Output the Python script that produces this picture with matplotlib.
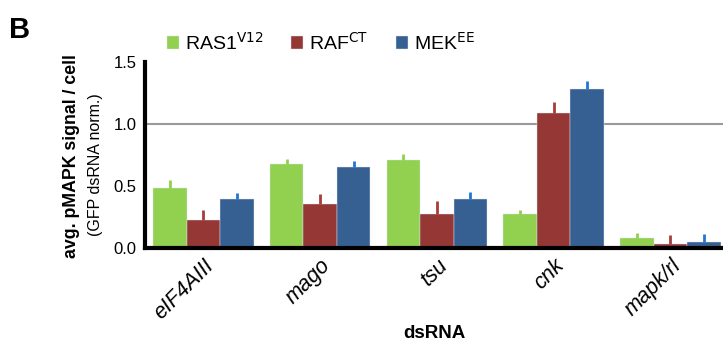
import numpy as np
import matplotlib.pyplot as plt

plt.rcParams['font.family'] = ['Liberation Sans', 'DejaVu Sans']

genes = ['eIF4AIII', 'mago', 'tsu', 'cnk', 'mapk/rl']
series = [r'RAS1$^{\mathrm{V12}}$', r'RAF$^{\mathrm{CT}}$', r'MEK$^{\mathrm{EE}}$']

ras1 = [0.48, 0.68, 0.71, 0.275, 0.08]
ras1_err = [0.07, 0.04, 0.045, 0.03, 0.045]
raf = [0.225, 0.355, 0.275, 1.09, 0.03]
raf_err = [0.08, 0.08, 0.10, 0.09, 0.075]
mek = [0.395, 0.65, 0.395, 1.28, 0.045]
mek_err = [0.05, 0.05, 0.055, 0.07, 0.07]

bar_colors = ['#92d050', '#953735', '#376092']
err_colors = ['#8fd14f', '#a83c3a', '#1f78d1']

fig = plt.figure(figsize=(7.23, 3.5), dpi=100)
ax = fig.add_axes([0.2006, 0.2914, 0.7994, 0.5316])

x = np.arange(len(genes))
w = 0.287
handles = []
for i, (vals, errs) in enumerate([(ras1, ras1_err), (raf, raf_err), (mek, mek_err)]):
    pos = x + (i - 1) * w
    h = ax.bar(pos, vals, w, color=bar_colors[i], edgecolor='#dfe6ee', linewidth=0.3,
               zorder=2, label=series[i])
    ax.errorbar(pos, vals, yerr=[np.zeros(len(vals)), errs], fmt='none',
                ecolor=err_colors[i], elinewidth=2, capsize=0, zorder=3)
    handles.append(h)

ax.axhline(1.0, color='#9a9a9a', lw=1.5, zorder=0)

ax.set_xlim(-0.5, 4.45)
ax.set_ylim(0, 1.5)
ax.set_yticks([0, 0.5, 1.0, 1.5])
ax.set_yticklabels(['0.0', '0.5', '1.0', '1.5'], fontsize=12)
ax.tick_params(axis='y', length=0, pad=6)
ax.tick_params(axis='x', length=0, pad=5)
ax.set_xticks(x)
ax.set_xticklabels(genes, rotation=45, ha='right', rotation_mode='anchor',
                   fontsize=15.5, style='italic')

for s in ['top', 'right']:
    ax.spines[s].set_visible(False)
ax.spines['left'].set_linewidth(3)
ax.spines['bottom'].set_linewidth(3)

ax.set_xlabel('dsRNA', fontsize=13.5, fontweight='bold', labelpad=1)
fig.text(0.099, 0.555, 'avg. pMAPK signal / cell', rotation=90, fontsize=12.8,
         fontweight='bold', ha='center', va='center')
fig.text(0.132, 0.53, '(GFP dsRNA norm.)', rotation=90, fontsize=11.5,
         ha='center', va='center')
fig.text(0.012, 0.955, 'B', fontsize=21, fontweight='bold', va='top')

fig.legend(handles=handles, loc='center left', bbox_to_anchor=(0.217, 0.878),
           ncol=3, frameon=False, fontsize=14, handlelength=0.65, handleheight=0.65,
           handletextpad=0.3, columnspacing=1.4, borderpad=0)

fig.savefig('out.png', dpi=100)
